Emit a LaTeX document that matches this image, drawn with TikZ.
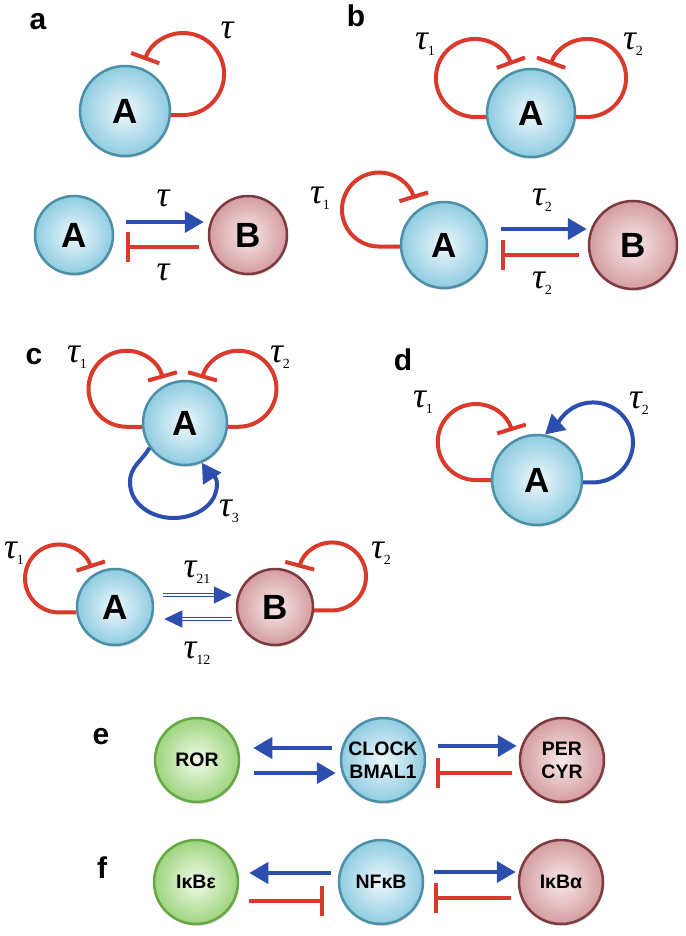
\documentclass[tikz,border=0pt]{standalone}
\usepackage{fontspec}
\setmainfont{Liberation Sans}
\newfontfamily\taufont{Liberation Serif}
\usetikzlibrary{positioning}
\usetikzlibrary{arrows.meta}
\usetikzlibrary{shadows}

\definecolor{bluebd}{HTML}{4D8FA6}
\definecolor{bluein}{HTML}{EEF8FC}
\definecolor{blueout}{HTML}{8FCCE1}
\definecolor{redbd}{HTML}{7D3A40}
\definecolor{redin}{HTML}{F8E9E9}
\definecolor{redout}{HTML}{D49DA0}
\definecolor{greenbd}{HTML}{64A844}
\definecolor{greenin}{HTML}{F3FBEA}
\definecolor{greenout}{HTML}{9DD47E}
\definecolor{actblue}{HTML}{2C4EAF}
\definecolor{inhred}{HTML}{D93A2B}

\newcommand{\tausub}[1]{τ\raisebox{-6pt}{\fontsize{14}{14}\selectfont\upshape #1}}

\begin{document}
\begin{tikzpicture}
    [
    x=1pt, y=1pt,
    on grid,
    mol/.style={circle, inner sep=0pt, line width=2.5pt, font=\bfseries\fontsize{35}{35}\selectfont,
        drop shadow={opacity=0.25, shadow xshift=1pt, shadow yshift=-2pt}},
    mol blue/.style={mol, draw=bluebd, inner color=bluein, outer color=blueout},
    mol red/.style={mol, draw=redbd, inner color=redin, outer color=redout},
    mol green/.style={mol, draw=greenbd, inner color=greenin, outer color=greenout},
    small mol/.style={minimum size=84pt, font=\bfseries\fontsize{19.5}{23}\selectfont, align=center},
    activ/.style={draw=actblue, line width=4pt, -{Triangle[length=19pt, width=21pt]}},
    inhib/.style={draw=inhred, line width=4pt, -{Bar[width=30pt]}},
    dbl activ/.style={draw=actblue, line width=1.3pt, double=white, double distance=2.2pt,
        -{Triangle[length=18pt, width=17pt]}},
    panel/.style={font=\bfseries\fontsize{30}{30}\selectfont, inner sep=0pt},
    tau/.style={font=\taufont\itshape\fontsize{36}{36}\selectfont, inner sep=0pt},
    ]

    \fill[white] (0,0) rectangle (685,-936);
    \useasboundingbox (0,0) rectangle (685,-936);

    % a
    \node[panel] (lbl_a) at (38,-22) {a};
    \node[mol blue, minimum size=90pt] (a_self) at (125,-111) {A};
    \draw[inhib] (a_self.-5) -- ++(12,0) arc[start angle=-90, end angle=160, radius=41];
    \node[tau] (tau_a) at (227,-30) {τ};

    \node[mol blue, minimum size=78pt] (a_A) at (74,-235) {A};
    \node[mol red, minimum size=78pt, right=174pt of a_A] (a_B) {B};
    \draw[activ] ([xshift=12pt, yshift=13pt]a_A.east) -- ([xshift=-4pt, yshift=13pt]a_B.west);
    \draw[inhib] ([xshift=-9pt, yshift=-12pt]a_B.west) -- ([xshift=12pt, yshift=-12pt]a_A.east);
    \node[tau] (tau_a_ab) at (163,-198) {τ};
    \node[tau] (tau_a_ba) at (163,-272) {τ};

    % b
    \node[panel] (lbl_b) at (356,-16) {b};
    \node[mol blue, minimum size=88pt] (b_self) at (531,-113) {A};
    \draw[inhib] (b_self.185) -- ++(-11,0) arc[start angle=-90, end angle=-340, radius=39];
    \draw[inhib] (b_self.-5) -- ++(11,0) arc[start angle=-90, end angle=160, radius=39];
    \node[tau] (tau_b1) at (425,-44) {\tausub{1}};
    \node[tau] (tau_b2) at (633,-44) {\tausub{2}};

    \node[mol blue, minimum size=86pt] (b_A) at (444,-245) {A};
    \node[mol red, minimum size=88pt, right=189pt of b_A] (b_B) {B};
    \draw[inhib] (b_A.182) -- ++(-20.8,0) arc[start angle=-90, end angle=-343, radius=37];
    \draw[activ] ([xshift=13pt, yshift=16pt]b_A.east) -- ([xshift=-1pt, yshift=16pt]b_B.west);
    \draw[inhib] ([xshift=-9pt, yshift=-10pt]b_B.west) -- ([xshift=13pt, yshift=-10pt]b_A.east);
    \node[tau] (tau_b_self) at (320,-198) {\tausub{1}};
    \node[tau] (tau_b_ab) at (542,-200) {\tausub{2}};
    \node[tau] (tau_b_ba) at (542,-283) {\tausub{2}};

    % c
    \node[panel] (lbl_c) at (34,-357) {c};
    \node[mol blue, minimum size=84pt] (c_self) at (185,-423) {A};
    \draw[inhib] (c_self.185) -- ++(-15.4,0) arc[start angle=-90, end angle=-344, radius=38];
    \draw[inhib] (c_self.-5) -- ++(10.4,0) arc[start angle=-90, end angle=164, radius=38];
    \draw[activ] (c_self.215) to[out=240, in=90] ++(-19.6,-34.2) to[out=-90, in=180] ++(43.5,-36)
        to[out=0, in=-90] ++(43.5,34) to[out=90, in=-57] (c_self.-67);
    \node[tau] (tau_c1) at (77,-357) {\tausub{1}};
    \node[tau] (tau_c2) at (280,-357) {\tausub{2}};
    \node[tau] (tau_c3) at (229,-511) {\tausub{3}};

    \node[mol blue, minimum size=76pt] (c_A) at (115,-607) {A};
    \node[mol red, minimum size=76pt, right=160pt of c_A] (c_B) {B};
    \draw[inhib] (c_A.188) -- ++(-17.1,0) arc[start angle=-90, end angle=-342, radius=34];
    \draw[inhib] (c_B.-5) -- ++(17.9,0) arc[start angle=-90, end angle=165, radius=34];
    \draw[dbl activ] ([xshift=9pt, yshift=12pt]c_A.east) -- ([xshift=-4pt, yshift=12pt]c_B.west);
    \draw[dbl activ] ([xshift=-4pt, yshift=-12pt]c_B.west) -- ([xshift=10pt, yshift=-12pt]c_A.east);
    \node[tau] (tau_c_a) at (14,-553) {\tausub{1}};
    \node[tau] (tau_c_ab) at (197,-572) {\tausub{21}};
    \node[tau] (tau_c_ba) at (197,-653) {\tausub{12}};
    \node[tau] (tau_c_b) at (381,-553) {\tausub{2}};

    % d
    \node[panel] (lbl_d) at (403,-360) {d};
    \node[mol blue, minimum size=90pt] (d_self) at (537,-480) {A};
    \draw[inhib] (d_self.180) -- ++(-15,0) arc[start angle=-90, end angle=-343, radius=38];
    \draw[activ] (d_self.-3) -- ++(9.8,0) arc[start angle=-90, end angle=150, radius=40] -- (d_self.80);
    \node[tau] (tau_d1) at (423,-402) {\tausub{1}};
    \node[tau] (tau_d2) at (639,-403) {\tausub{2}};

    % e
    \node[panel] (lbl_e) at (101,-737) {e};
    \node[mol green, small mol] (e_ror) at (197,-760) {ROR};
    \node[mol blue, small mol, right=186pt of e_ror] (e_clock) {CLOCK\\BMAL1};
    \node[mol red, small mol, right=179pt of e_clock] (e_per) {PER\\CYR};
    \draw[activ] ([xshift=-8pt, yshift=12pt]e_clock.west) -- ([xshift=13pt, yshift=12pt]e_ror.east);
    \draw[activ] ([xshift=14pt, yshift=-13pt]e_ror.east) -- ([xshift=-4pt, yshift=-13pt]e_clock.west);
    \draw[activ] ([xshift=12pt, yshift=14pt]e_clock.east) -- ([xshift=-2pt, yshift=14pt]e_per.west);
    \draw[inhib] ([xshift=-7pt, yshift=-13pt]e_per.west) -- ([xshift=10pt, yshift=-13pt]e_clock.east);

    % f
    \node[panel] (lbl_f) at (102,-868) {f};
    \node[mol green, small mol] (f_ikbe) at (196,-882) {IκBε};
    \node[mol blue, small mol, right=185pt of f_ikbe] (f_nfkb) {NFκB};
    \node[mol red, small mol, right=180pt of f_nfkb] (f_ikba) {IκBα};
    \draw[activ] ([xshift=-7pt, yshift=9pt]f_nfkb.west) -- ([xshift=10pt, yshift=9pt]f_ikbe.east);
    \draw[inhib] ([xshift=10pt, yshift=-19pt]f_ikbe.east) -- ([xshift=-14pt, yshift=-19pt]f_nfkb.west);
    \draw[activ] ([xshift=10pt, yshift=10pt]f_nfkb.east) -- ([xshift=-2pt, yshift=10pt]f_ikba.west);
    \draw[inhib] ([xshift=-7pt, yshift=-16pt]f_ikba.west) -- ([xshift=10pt, yshift=-16pt]f_nfkb.east);
\end{tikzpicture}
\end{document}
